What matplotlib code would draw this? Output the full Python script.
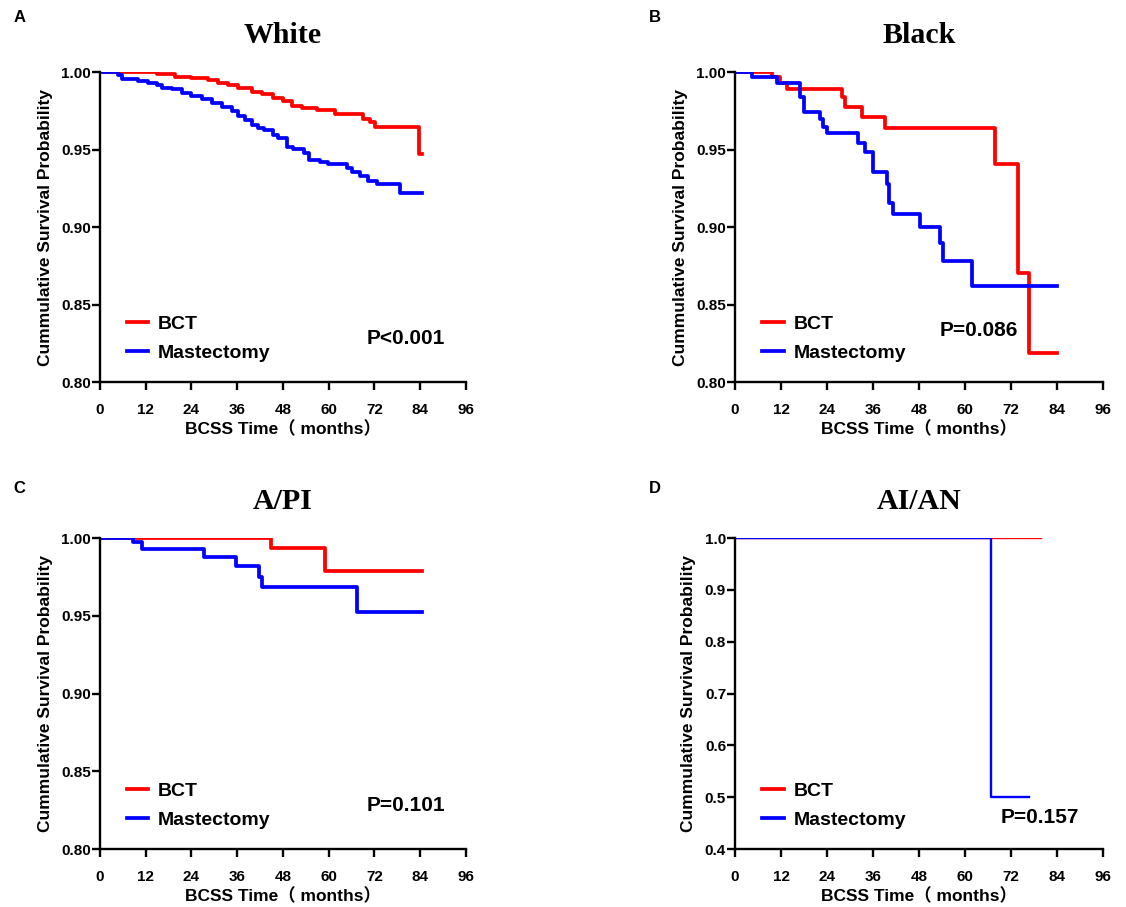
import matplotlib
matplotlib.use("Agg")
import matplotlib.pyplot as plt
from matplotlib.lines import Line2D

plt.rcParams['font.family'] = ['Liberation Sans', 'Noto Sans CJK SC', 'DejaVu Sans']
plt.rcParams['font.weight'] = 'bold'

# ---- data ----
white_bct_t = [0, 14.9, 19.7, 24, 28.4, 31, 33.5, 36.3, 39.8, 42.4, 45.5, 48.1, 50.3, 52.9,
               56.9, 61.7, 69.1, 70.9, 72.2, 83.8, 84.6]
white_bct_s = [1.0, 0.9985, 0.997, 0.996, 0.9948, 0.9927, 0.9915, 0.990, 0.9873, 0.9856,
               0.983, 0.981, 0.978, 0.9766, 0.9755, 0.9727, 0.970, 0.9675, 0.9643, 0.9469, 0.9469]
white_mas_t = [0, 4.8, 5.7, 10, 12.7, 14.9, 16.2, 18.8, 21.4, 24, 26.7, 29.3, 31.9, 34.6,
               36.3, 38.1, 39.8, 41.5, 42.9, 45.5, 46.8, 49, 50.7, 53.4, 54.7, 57.7, 59.9,
               64.7, 66, 68.2, 70.4, 72.6, 78.7, 84.6]
white_mas_s = [1.0, 0.998, 0.9953, 0.9942, 0.993, 0.9916, 0.990, 0.9888, 0.9866, 0.9845,
               0.9824, 0.980, 0.9776, 0.9748, 0.9716, 0.969, 0.9658, 0.9642, 0.9626, 0.9594,
               0.9572, 0.9518, 0.9501, 0.9476, 0.9432, 0.9421, 0.9404, 0.9378, 0.9353,
               0.9329, 0.930, 0.9275, 0.9217, 0.9217]

black_bct_t = [0, 9.6, 11.7, 13.5, 27.8, 28.7, 33, 39.1, 67.7, 73.8, 76.7, 84]
black_bct_s = [1.0, 0.997, 0.9927, 0.9888, 0.984, 0.9776, 0.9712, 0.9636, 0.9406, 0.8705,
               0.819, 0.819]
black_mas_t = [0, 4.3, 10.9, 17, 17.9, 22.2, 22.9, 23.9, 32.2, 33.9, 36.1, 39.6, 40.2, 41.1,
               48.3, 53.5, 54.3, 61.7, 84]
black_mas_s = [1.0, 0.997, 0.9927, 0.984, 0.974, 0.970, 0.9647, 0.9604, 0.954, 0.9486,
               0.9357, 0.928, 0.9153, 0.9084, 0.8998, 0.8899, 0.8783, 0.862, 0.862]

api_bct_t = [0, 44.8, 59, 84.6]
api_bct_s = [1.0, 0.9934, 0.9788, 0.9788]
api_mas_t = [0, 8.7, 10.9, 27.4, 35.6, 41.6, 42.4, 67.4, 84.6]
api_mas_s = [1.0, 0.9972, 0.993, 0.9876, 0.9822, 0.9751, 0.9683, 0.9526, 0.9526]

aian_bct_t = [0, 79.8]
aian_bct_s = [1.0, 1.0]
aian_mas_t = [0, 66.7, 76.7]
aian_mas_s = [1.0, 0.5, 0.5]

titles = ['White', 'Black', 'A/PI', 'AI/AN']
letters = ['A', 'B', 'C', 'D']
pvalues = ['P<0.001', 'P=0.086', 'P=0.101', 'P=0.157']
x_ticks = [0, 12, 24, 36, 48, 60, 72, 84, 96]

fig = plt.figure(figsize=(11.26, 9.07), dpi=100)

# axes rectangles in figure fractions
rects = [
    [0.0888, 0.5788, 0.3250, 0.3418],
    [0.6528, 0.5788, 0.3268, 0.3418],
    [0.0888, 0.0639, 0.3250, 0.3429],
    [0.6528, 0.0639, 0.3268, 0.3429],
]
curves = [
    (white_bct_t, white_bct_s, white_mas_t, white_mas_s),
    (black_bct_t, black_bct_s, black_mas_t, black_mas_s),
    (api_bct_t, api_bct_s, api_mas_t, api_mas_s),
    (aian_bct_t, aian_bct_s, aian_mas_t, aian_mas_s),
]
p_pos = [(0.835, 0.142), (0.663, 0.165), (0.835, 0.141), (0.829, 0.103)]
letter_pos = [(0.012, 0.981), (0.576, 0.981), (0.012, 0.461), (0.576, 0.461)]

for i in range(4):
    ax = fig.add_axes(rects[i])
    bt, bs, mt, ms = curves[i]
    lw = 1.7 if i == 3 else 2.7
    ax.step(bt, bs, where='post', color='#ff0000', lw=lw)
    ax.step(mt, ms, where='post', color='#0000ff', lw=lw)

    ax.set_xlim(0, 96)
    ax.set_xticks(x_ticks)
    if i == 3:
        ax.set_ylim(0.4, 1.0)
        ax.set_yticks([0.4, 0.5, 0.6, 0.7, 0.8, 0.9, 1.0])
        ax.set_yticklabels(['0.4', '0.5', '0.6', '0.7', '0.8', '0.9', '1.0'])
    else:
        ax.set_ylim(0.80, 1.00)
        ax.set_yticks([0.80, 0.85, 0.90, 0.95, 1.00])
        ax.set_yticklabels(['0.80', '0.85', '0.90', '0.95', '1.00'])

    for s in ['top', 'right']:
        ax.spines[s].set_visible(False)
    for s in ['left', 'bottom']:
        ax.spines[s].set_linewidth(1.7)
    ax.tick_params(width=1.7, length=5.5, labelsize=11)
    ax.tick_params(axis='x', pad=9.5)
    ax.tick_params(axis='y', pad=1)
    for lab in ax.get_xticklabels() + ax.get_yticklabels():
        lab.set_fontweight('bold')

    ax.set_xlabel('BCSS Time（ months）', fontsize=12.5, fontweight='bold', labelpad=3)
    ax.set_ylabel('Cummulative Survival Probability', fontsize=12.5, fontweight='bold', labelpad=6)
    ax.set_title(titles[i], fontsize=21.5, fontweight='bold', family='Liberation Serif', pad=21)

    handles = [Line2D([], [], color='#ff0000', lw=2.7),
               Line2D([], [], color='#0000ff', lw=2.7)]
    ax.legend(handles, ['BCT', 'Mastectomy'], loc='lower left',
              bbox_to_anchor=(0.074, 0.066), frameon=False,
              fontsize=14, handlelength=1.1, handletextpad=0.5, labelspacing=0.55,
              borderpad=0, borderaxespad=0)
    ax.text(p_pos[i][0], p_pos[i][1], pvalues[i], transform=ax.transAxes,
            ha='center', va='center', fontsize=15, fontweight='bold')

    fig.text(letter_pos[i][0], letter_pos[i][1], letters[i], fontsize=12,
             fontweight='bold', ha='left', va='center')

fig.savefig('out.png', dpi=100, facecolor='white')
